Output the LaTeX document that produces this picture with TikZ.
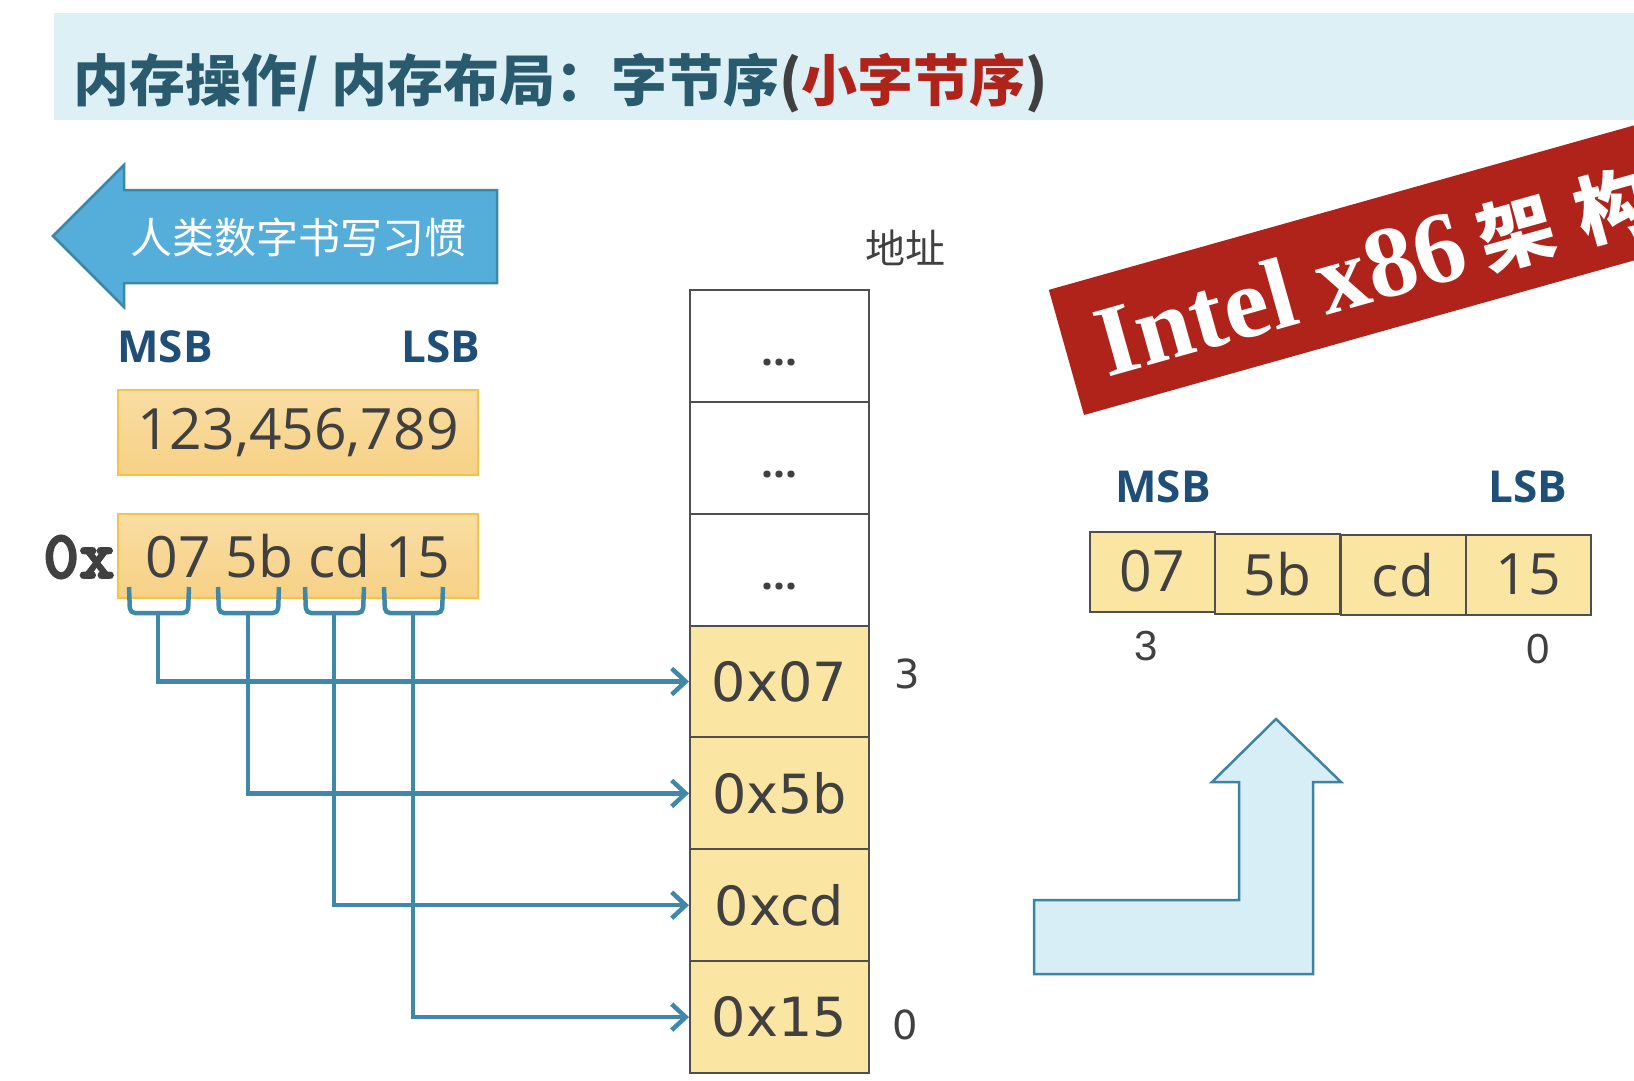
\documentclass[tikz,border=0pt]{standalone}
\usepackage{fontspec}
\setmainfont{Open Sans}
\newfontfamily\cjk{Noto Sans CJK SC}
\newfontfamily\osans{Open Sans}
\newfontfamily\dvs{DejaVu Sans}
\newfontfamily\lmtt[FakeBold=3]{lmmonolt10-bold.otf}
\newfontfamily\lserif{Liberation Serif}
\newfontfamily\lsans{Liberation Sans}
\usetikzlibrary{arrows.meta}
\definecolor{titleteal}{HTML}{2A5A6E}
\definecolor{titlered}{HTML}{B0231B}
\definecolor{bannerbg}{HTML}{DCF0F6}
\definecolor{msbblue}{HTML}{1F4E79}
\definecolor{arrowfill}{HTML}{55AED9}
\definecolor{arrowdraw}{HTML}{3E87A6}
\definecolor{connblue}{HTML}{3F88A9}
\definecolor{txtgray}{HTML}{404040}
\definecolor{cellfill}{HTML}{FAE5A3}
\definecolor{celldraw}{HTML}{4F4F4F}
\definecolor{boxtop}{HTML}{F9DDA2}
\definecolor{boxbot}{HTML}{F7D186}
\definecolor{boxdraw}{HTML}{F5C444}
\definecolor{intelred}{HTML}{B0231B}
\definecolor{lfill}{HTML}{D8EEF7}
\definecolor{ldraw}{HTML}{3D84A2}
\begin{document}
\begin{tikzpicture}[x=1pt,y=-1pt,
  msb/.style={font=\osans\bfseries\fontsize{44}{50}\selectfont, text=msbblue, inner sep=0pt},
  obox/.style={draw=boxdraw, line width=2pt, top color=boxtop, bottom color=boxbot, minimum width=360pt, minimum height=85pt, inner sep=0pt, font=\osans\fontsize{57}{62}\selectfont, text=txtgray},
  cell/.style={draw=celldraw, line width=2pt, minimum width=179pt, minimum height=111.86pt, inner sep=0pt, font=\dvs\fontsize{54}{60}\selectfont, text=txtgray},
  ycell/.style={cell, fill=cellfill},
  wcell/.style={cell, fill=white},
  dots/.style={font=\osans\bfseries\fontsize{42}{46}\selectfont, text=txtgray, inner sep=0pt},
  rbox/.style={draw=celldraw, line width=2pt, fill=cellfill, minimum width=125pt, minimum height=80pt, inner sep=0pt, font=\osans\fontsize{57}{62}\selectfont, text=txtgray},
  brk/.style={draw=connblue, line width=4.5pt, rounded corners=5pt},
  link/.style={draw=connblue, line width=4.5pt, -{Straight Barb[length=14pt,width=26pt]}},
  idx/.style={font=\dvs\fontsize{40}{44}\selectfont, text=txtgray, inner sep=0pt},
  ridx/.style={font=\lsans\fontsize{42}{46}\selectfont, text=txtgray, inner sep=0pt},
  ]
\path[use as bounding box] (0,0) rectangle (1634,1080);
\clip (0,0) rectangle (1634,1080);
\fill[white] (0,0) rectangle (1634,1080);

% title banner
\fill[bannerbg] (54,13) rectangle (1634,120);
\node[anchor=base west, inner sep=0pt, font=\cjk\bfseries\fontsize{56}{60}\selectfont, text=titleteal] (title) at (73,101)
  {内存操作/ 内存布局：字节序{\color{txtgray}(}{\color{titlered}小字节序}{\color{txtgray})}};

% left arrow
\filldraw[fill=arrowfill, draw=arrowdraw, line width=2.5pt, line join=miter]
  (53,236) -- (124,165) -- (124,190) -- (497,190) -- (497,283) -- (124,283) -- (124,307) -- cycle;
\node[inner sep=0pt, font=\cjk\fontsize{42}{46}\selectfont, text=white] (habit) at (298,237) {人类数字书写习惯};

% MSB / LSB left
\node[msb] (lmsb) at (165,347) {MSB};
\node[msb] (llsb) at (441,347) {LSB};

% orange boxes
\node[obox] (dec) at (298,432.5) {123,456,789};
\node[obox, minimum height=84pt] (hex) at (298,556) {07 5b cd 15};
\node[inner sep=0pt, font=\lmtt\fontsize{68}{70}\selectfont, text=txtgray] (px) at (79,557) {0x};

% brackets
\draw[brk] (129,587) -- (130,613) -- (188,613) -- (189,587);
\draw[brk] (218,587) -- (219,613) -- (278,613) -- (279,587);
\draw[brk] (305,587) -- (306,613) -- (363,613) -- (364,587);
\draw[brk] (384,587) -- (385,613) -- (442,613) -- (443,587);
\coordinate (s1) at (158,613);
\coordinate (s2) at (248,613);
\coordinate (s3) at (334,613);
\coordinate (s4) at (413,613);

% memory column
\node[idx, font=\cjk\fontsize{40}{44}\selectfont] (addr) at (905,248) {地址};
\node[wcell] (m6) at (779.5,345.9) {};
\node[wcell] (m5) at (779.5,457.8) {};
\node[wcell] (m4) at (779.5,569.6) {};
\node[ycell] (c07) at (779.5,681.5) {0x07};
\node[ycell] (c5b) at (779.5,793.4) {0x5b};
\node[ycell] (ccd) at (779.5,905.2) {0xcd};
\node[ycell] (c15) at (779.5,1017.1) {0x15};
\node[dots] (d6) at (779.5,363) {...};
\node[dots] (d5) at (779.5,475) {...};
\node[dots] (d4) at (779.5,587) {...};
\node[idx] (a3) at (907,674) {3};
\node[idx] (a0) at (905,1025) {0};

% connectors
\draw[link] (s1) |- (c07);
\draw[link] (s2) |- (c5b);
\draw[link] (s3) |- (ccd);
\draw[link] (s4) |- (c15);

% Intel banner
\begin{scope}[shift={(1084,415)}, rotate=15.7, transform shape]
  \fill[intelred] (0,0) rectangle (800,-130);
  \node[anchor=base west, inner sep=0pt, text=white, font=\lserif\bfseries\fontsize{101}{104}\selectfont] (intel) at (33,-30)
    {Intel x86\hspace{16pt}{\cjk\bfseries\fontsize{76}{80}\selectfont 架\hspace{24pt}构}};
\end{scope}

% right side
\node[msb] (rmsb) at (1163,487) {MSB};
\node[msb] (rlsb) at (1528,487) {LSB};
\node[rbox] (r07) at (1152.5,571.5) {07};
\node[rbox] (r5b) at (1277.5,574) {5b};
\node[rbox] (rcd) at (1403,575) {cd};
\node[rbox] (r15) at (1528.5,574.5) {15};
\node[ridx] (r3) at (1146,646) {3};
\node[ridx] (r0) at (1538,649) {0};

% L-shaped arrow
\filldraw[fill=lfill, draw=ldraw, line width=2.5pt, line join=miter]
  (1034,974) -- (1034,900) -- (1239,900) -- (1239,782) -- (1212,782) -- (1276,719)
  -- (1341,782) -- (1313,782) -- (1313,974) -- cycle;
\end{tikzpicture}
\end{document}
